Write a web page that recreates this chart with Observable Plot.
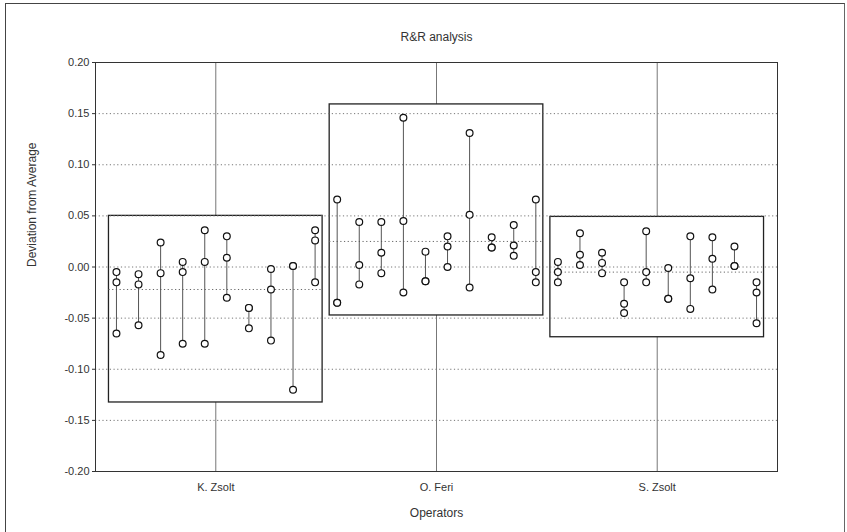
<!DOCTYPE html>
<html>
<head>
<meta charset="utf-8">
<script src="https://cdn.jsdelivr.net/npm/d3@7"></script>
<script src="https://cdn.jsdelivr.net/npm/@observablehq/plot@0.6"></script>
<style>
  html, body { margin: 0; padding: 0; background: #fff; }
  #wrap { position: relative; width: 847px; height: 532px; overflow: hidden; }
  #border { position: absolute; left: 5px; top: 3px; width: 838px; height: 540px;
            border-top: 1px solid #444; border-left: 1px solid #444; border-right: 1px solid #666; }
  #chart { position: absolute; left: 0; top: 0; }
</style>
</head>
<body>
<div id="wrap"><div id="chart"></div><div id="border"></div></div>
<script>
const title = "R&R analysis";
const yLabel = "Deviation from Average";
const xLabel = "Operators";
const operators = ["K. Zsolt", "O. Feri", "S. Zsolt"];
const yTicks = [-0.20, -0.15, -0.10, -0.05, 0.00, 0.05, 0.10, 0.15, 0.20];

// three trials per part, ten parts per operator
const kZsolt = [
  [-0.005, -0.015, -0.065],
  [-0.007, -0.017, -0.057],
  [0.024, -0.006, -0.086],
  [0.005, -0.005, -0.075],
  [0.036, 0.005, -0.075],
  [0.030, 0.009, -0.030],
  [-0.040, -0.040, -0.060],
  [-0.002, -0.022, -0.072],
  [0.001, 0.001, -0.120],
  [0.036, 0.026, -0.015]
];
const oFeri = [
  [0.066, -0.035, -0.035],
  [0.044, 0.002, -0.017],
  [0.044, 0.014, -0.006],
  [0.146, 0.045, -0.025],
  [0.015, -0.014, -0.014],
  [0.030, 0.020, 0.000],
  [0.131, 0.051, -0.020],
  [0.029, 0.019, 0.019],
  [0.041, 0.021, 0.011],
  [0.066, -0.005, -0.015]
];
const sZsolt = [
  [0.005, -0.005, -0.015],
  [0.033, 0.012, 0.002],
  [0.014, 0.004, -0.006],
  [-0.015, -0.036, -0.045],
  [0.035, -0.005, -0.015],
  [-0.001, -0.031, -0.031],
  [0.030, -0.011, -0.041],
  [0.029, 0.008, -0.022],
  [0.020, 0.001, 0.001],
  [-0.015, -0.025, -0.055]
];
const boxUpper = [0.050, 0.159, 0.049];
const boxLower = [-0.1325, -0.0474, -0.0687];
const operatorMean = [-0.022, 0.025, -0.005];

const series = [kZsolt, oFeri, sZsolt];
const HALF = 0.484;   // half-width of an operator box (x units)
const STEP = 0.1;     // spacing between parts (x units)

const parts = [];
const points = [];
series.forEach((rows, i) => {
  rows.forEach((vals, j) => {
    const x = i + 1 + (j - 4.5) * STEP;
    parts.push({x, lo: d3.min(vals), hi: d3.max(vals)});
    vals.forEach(v => points.push({x, y: v}));
  });
});
const boxes = operators.map((name, i) => ({
  x: i + 1, top: boxUpper[i], bottom: boxLower[i], mean: operatorMean[i]
}));

const chart = Plot.plot({
  width: 847,
  height: 532,
  marginLeft: 95,
  marginRight: 70,
  marginTop: 62,
  marginBottom: 61,
  style: {fontFamily: "'Liberation Sans', Arial, sans-serif", fontSize: "11px", color: "#333", background: "transparent"},
  x: {domain: [0.455, 3.545]},
  y: {domain: [-0.2, 0.2]},
  marks: [
    Plot.ruleX([1, 2, 3], {stroke: "#777", strokeWidth: 1}),
    Plot.rect(boxes, {x1: d => d.x - HALF, x2: d => d.x + HALF, y1: "bottom", y2: "top",
                      fill: "white", stroke: "#222", strokeWidth: 1.3}),
    Plot.ruleY(yTicks.filter(t => Math.abs(t) < 0.19), {stroke: "#777", strokeDasharray: "1.2,2.5", strokeWidth: 1}),
    Plot.ruleY(boxes, {y: "mean", x1: d => d.x - HALF, x2: d => d.x + HALF,
                       stroke: "#666", strokeDasharray: "1.2,2.5", strokeWidth: 1}),
    Plot.ruleX(parts, {x: "x", y1: "lo", y2: "hi", stroke: "#555", strokeWidth: 1}),
    Plot.dot(points, {x: "x", y: "y", r: 3.4, fill: "white", stroke: "#111", strokeWidth: 1.2}),
    Plot.frame({stroke: "#333", strokeWidth: 1}),
    Plot.axisY({ticks: yTicks, tickFormat: d => d.toFixed(2), tickSize: 3, tickPadding: 3,
                label: null, stroke: "#333", fill: "#333"}),
    Plot.axisX({ticks: [1, 2, 3], tickFormat: d => operators[d - 1], tickSize: 0, tickPadding: 12,
                label: null, fill: "#333"}),
    Plot.text([title], {frameAnchor: "top", dy: -30, fontSize: 12, fill: "#333"}),
    Plot.text([yLabel], {frameAnchor: "left", dx: -63, rotate: -90, fontSize: 12, fill: "#333"}),
    Plot.text([xLabel], {frameAnchor: "bottom", dy: 45, fontSize: 12, fill: "#333"})
  ]
});
document.getElementById("chart").appendChild(chart);
</script>
</body>
</html>
